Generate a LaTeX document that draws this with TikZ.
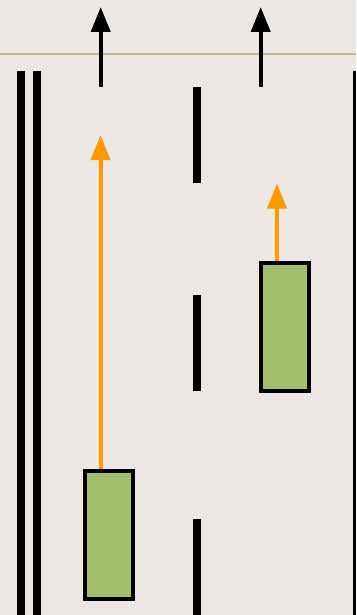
\documentclass[tikz,border=0pt]{standalone}
\usetikzlibrary{arrows.meta}
\definecolor{bg}{HTML}{ECE7E3}
\definecolor{tan}{HTML}{C8B98A}
\definecolor{boxgreen}{HTML}{A3BF6B}
\definecolor{orangearrow}{HTML}{FF9900}
\tikzset{
  lane/.style={fill=black, draw=none},
  car/.style={draw=black, line width=4pt, fill=boxgreen, minimum width=48pt, minimum height=128pt, inner sep=0pt, outer sep=0pt},
  blackarrow/.style={draw=black, line width=4pt, -{Triangle[length=25pt, width=19pt]}},
  orangearr/.style={draw=orangearrow, line width=4pt, -{Triangle[length=25pt, width=19pt]}},
}
\begin{document}
\begin{tikzpicture}[x=1pt, y=-1pt]
\useasboundingbox (0,0) rectangle (356,615);
\fill[bg] (0,0) rectangle (356,615);
\draw[tan, line width=2pt] (0,54.5) -- (356,54.5);
% lane lines
\fill[lane] (17,71) rectangle (25,615);
\fill[lane] (33,71) rectangle (41,615);
\fill[lane] (353,71) rectangle (356,615);
\fill[lane] (193,87) rectangle (201,183);
\fill[lane] (193,295) rectangle (201,391);
\fill[lane] (193,519) rectangle (201,615);
% black arrows
\coordinate (b1s) at (100.7,87);
\coordinate (b1e) at (100.7,7);
\coordinate (b2s) at (260.7,87);
\coordinate (b2e) at (260.7,7);
\draw[blackarrow] (b1s) -- (b1e);
\draw[blackarrow] (b2s) -- (b2e);
% cars
\node[car] (car1) at (109,535) {};
\node[car] (car2) at (285,326.8) {};
\coordinate (o1e) at (100.5,135);
\coordinate (o2e) at (277,183.5);
\draw[orangearr] (car1.north -| o1e) ++(0,-2) -- (o1e);
\draw[orangearr] (car2.north -| o2e) ++(0,-2) -- (o2e);
\end{tikzpicture}
\end{document}
